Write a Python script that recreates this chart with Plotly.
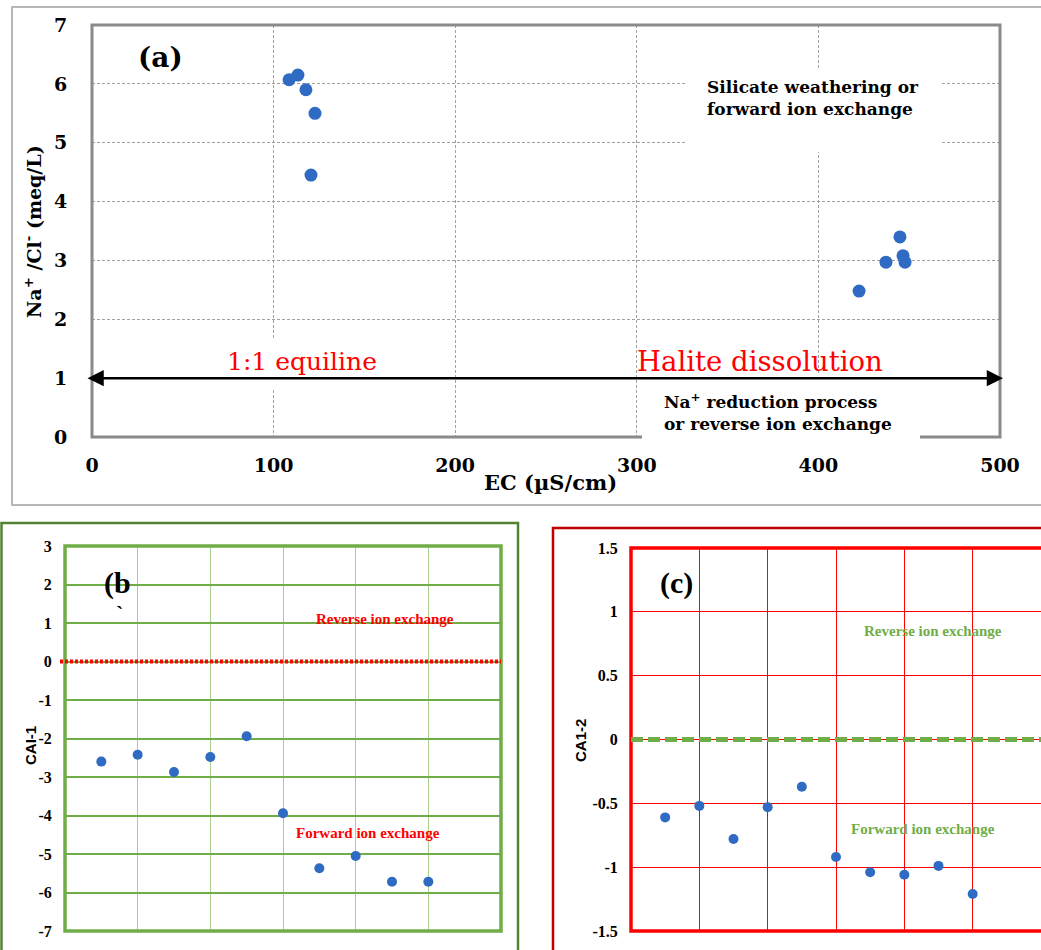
import plotly.graph_objects as go

# ---------------- data ----------------
ec_values = [108.5, 113.4, 117.8, 122.8, 120.6, 422.4, 437.2, 444.9, 446.6, 447.7]
na_cl_ratio = [6.07, 6.15, 5.90, 5.50, 4.45, 2.48, 2.97, 3.40, 3.08, 2.97]
equiline_value = 1

sample_index = [1, 2, 3, 4, 5, 6, 7, 8, 9, 10]
cai1_values = [-2.60, -2.42, -2.87, -2.48, -1.94, -3.94, -5.37, -5.05, -5.72, -5.72]
cai2_values = [-0.61, -0.52, -0.78, -0.53, -0.37, -0.92, -1.04, -1.06, -0.99, -1.21]
cai_threshold = 0

a_xticks = [0, 100, 200, 300, 400, 500]
a_yticks = [0, 1, 2, 3, 4, 5, 6, 7]
b_yticks = [3, 2, 1, 0, -1, -2, -3, -4, -5, -6, -7]
c_yticks = [1.5, 1, 0.5, 0, -0.5, -1, -1.5]
c_yticktext = ["1.5", "1", "0.5", "0", "-0.5", "-1", "-1.5"]

W, H = 1041, 950


def px(x):
    return x / W


def py(y):
    return 1 - y / H


BLUE = "#2f6bc2"
SERIF = "DejaVu Serif"
TSERIF = "Liberation Serif"

fig = go.Figure()

fig.add_trace(go.Scatter(x=ec_values, y=na_cl_ratio, mode="markers",
                         marker=dict(color=BLUE, size=13), xaxis="x", yaxis="y",
                         showlegend=False, cliponaxis=False))
fig.add_trace(go.Scatter(x=sample_index, y=cai1_values, mode="markers",
                         marker=dict(color=BLUE, size=10), xaxis="x2", yaxis="y2",
                         showlegend=False))
fig.add_trace(go.Scatter(x=sample_index, y=cai2_values, mode="markers",
                         marker=dict(color=BLUE, size=10), xaxis="x3", yaxis="y3",
                         showlegend=False))

layout = dict(
    width=W, height=H, margin=dict(l=0, r=0, t=0, b=0, autoexpand=False),
    paper_bgcolor="white", plot_bgcolor="white", showlegend=False,
    # ---- panel (a)
    xaxis=dict(domain=[px(92), px(1000)], range=[0, 500], tickvals=a_xticks,
               ticktext=[str(v) for v in a_xticks],
               showgrid=True, gridcolor="#a0a0a0", griddash="3px,2px", gridwidth=1,
               zeroline=False, showline=False, ticks="outside", ticklen=11,
               tickcolor="rgba(0,0,0,0)", automargin=False,
               tickfont=dict(family=SERIF, size=19, color="black", weight="bold"),
               anchor="y", fixedrange=True),
    yaxis=dict(domain=[py(437), py(25)], range=[0, 7], tickvals=a_yticks,
               ticktext=[str(v) for v in a_yticks],
               showgrid=True, gridcolor="#a0a0a0", griddash="3px,2px", gridwidth=1,
               zeroline=False, showline=False, ticks="outside", ticklen=20,
               tickcolor="rgba(0,0,0,0)", automargin=False,
               tickfont=dict(family=SERIF, size=19, color="black", weight="bold"),
               anchor="x", fixedrange=True),
    # ---- panel (b)
    xaxis2=dict(domain=[px(65), px(501)], range=[0, 12], tickvals=[2, 4, 6, 8, 10],
                showticklabels=False, showgrid=True, gridcolor="#a9d18e", gridwidth=1.2,
                zeroline=False, showline=False, anchor="y2", fixedrange=True,
                automargin=False),
    yaxis2=dict(domain=[py(931), py(546)], range=[-7, 3], tickvals=b_yticks,
                ticktext=[str(v) for v in b_yticks],
                showgrid=True, gridcolor="#70ad47", gridwidth=1.5,
                zeroline=False, showline=False, ticks="outside", ticklen=9,
                tickcolor="rgba(0,0,0,0)", automargin=False,
                tickfont=dict(family=TSERIF, size=16, color="black", weight="bold"),
                anchor="x2", fixedrange=True),
    # ---- panel (c)
    xaxis3=dict(domain=[px(631), 1.0], range=[0, 12], tickvals=[2, 4, 6, 8, 10],
                showticklabels=False, showgrid=True, gridcolor="#ff0000", gridwidth=1,
                zeroline=False, showline=False, anchor="y3", fixedrange=True,
                automargin=False),
    yaxis3=dict(domain=[py(931), py(548)], range=[-1.5, 1.5], tickvals=c_yticks,
                ticktext=c_yticktext,
                showgrid=True, gridcolor="#ff0000", gridwidth=1,
                zeroline=False, showline=False, ticks="outside", ticklen=9,
                tickcolor="rgba(0,0,0,0)", automargin=False,
                tickfont=dict(family=TSERIF, size=16, color="black", weight="bold"),
                anchor="x3", fixedrange=True),
)

shapes = [
    # outer panel borders
    dict(type="rect", xref="paper", yref="paper", x0=px(12), y0=py(7), x1=px(1050), y1=py(505),
         line=dict(color="#b8b8b8", width=2), layer="above"),
    dict(type="rect", xref="paper", yref="paper", x0=px(1.5), y0=py(523), x1=px(518), y1=py(960),
         line=dict(color="#548235", width=2.5), layer="above"),
    dict(type="rect", xref="paper", yref="paper", x0=px(553), y0=py(528), x1=px(1060), y1=py(960),
         line=dict(color="#c00000", width=2.5), layer="above"),
    # panel (a) frame
    dict(type="rect", xref="paper", yref="paper", x0=px(92), y0=py(25), x1=px(1000), y1=py(437),
         line=dict(color="#8a8a8a", width=3), layer="above"),
    # white boxes behind the (a) annotations
    dict(type="rect", xref="paper", yref="paper", x0=px(215), y0=py(338), x1=px(385), y1=py(388),
         fillcolor="white", line=dict(width=0), layer="above"),
    dict(type="rect", xref="paper", yref="paper", x0=px(685), y0=py(68), x1=px(942), y1=py(152),
         fillcolor="white", line=dict(width=0), layer="above"),
    dict(type="rect", xref="paper", yref="paper", x0=px(642), y0=py(373), x1=px(920), y1=py(441),
         fillcolor="white", line=dict(width=0), layer="above"),
    # panel (b) frame and threshold line
    dict(type="rect", xref="paper", yref="paper", x0=px(65), y0=py(546), x1=px(501), y1=py(931),
         line=dict(color="#70ad47", width=3.5), layer="above"),
    dict(type="line", xref="paper", yref="y2", x0=px(60), x1=px(501), y0=cai_threshold, y1=cai_threshold,
         line=dict(color="#ff0000", width=4, dash="3px,2px"), layer="above"),
    # panel (c) frame and threshold line
    dict(type="rect", xref="paper", yref="paper", x0=px(631), y0=py(548), x1=px(1060), y1=py(931),
         line=dict(color="#ff0000", width=3.5), layer="above"),
    dict(type="line", xref="paper", yref="y3", x0=px(631), x1=1.0, y0=cai_threshold, y1=cai_threshold,
         line=dict(color="#70ad47", width=5, dash="12px,5px"), layer="above"),
]
layout["shapes"] = shapes


def ann(text, x, y, size, family=SERIF, color="black", weight="normal", xanchor="center",
        align="center", textangle=0):
    return dict(text=text, x=px(x), y=py(y), xref="paper", yref="paper", showarrow=False,
                xanchor=xanchor, yanchor="middle", align=align, textangle=textangle,
                font=dict(family=family, size=size, color=color, weight=weight))


annotations = [
    # panel (a)
    ann("(a)", 160, 57, 28, weight="bold"),
    ann("Na<sup>+</sup> /Cl<sup>-</sup> (meq/L)", 33, 232, 19, weight="bold", textangle=-90),
    ann("EC (µS/cm)", 550, 482, 21, weight="bold"),
    ann("Silicate weathering or<br>forward ion exchange", 705, 98, 17, weight="bold",
        xanchor="left", align="left"),
    ann("Na<sup>+</sup> reduction process<br>or reverse ion exchange", 662, 412, 17, weight="bold",
        xanchor="left", align="left"),
    ann("1:1 equiline", 302, 361, 25, color="#ff0000"),
    ann("Halite dissolution", 760, 361, 27.5, color="#ff0000"),
    # panel (b)
    ann("(b", 117, 583, 30, family=TSERIF, weight="bold"),
    ann("`", 119, 613, 22, family=TSERIF, weight="bold"),
    ann("CAI-1", 30, 746, 15, family="Liberation Sans", weight="bold", textangle=-90),
    ann("Reverse ion exchange", 385, 619, 15, family=TSERIF, color="#ff0000", weight="bold"),
    ann("Forward ion exchange", 368, 833, 15, family=TSERIF, color="#ff0000", weight="bold"),
    # panel (c)
    ann("(c)", 676, 583, 30, family=TSERIF, weight="bold"),
    ann("CA1-2", 580, 741, 15, family="Liberation Sans", weight="bold", textangle=-90),
    ann("Reverse ion exchange", 933, 631, 15, family=TSERIF, color="#70ad47", weight="bold"),
    ann("Forward ion exchange", 923, 829, 15, family=TSERIF, color="#70ad47", weight="bold"),
    # 1:1 equiline double arrow
    dict(text="", x=px(1003), y=equiline_value, xref="paper", yref="y", showarrow=True,
         ax=-(1003 - 86), ay=0, axref="pixel", ayref="pixel", arrowside="end+start",
         arrowhead=2, arrowsize=1.3, arrowwidth=2.5, arrowcolor="black", standoff=0,
         startstandoff=0),
]
layout["annotations"] = annotations

fig.update_layout(**layout)
fig.write_html("out.html", config={"displayModeBar": False},
               post_script="document.body.style.margin='0px';")
